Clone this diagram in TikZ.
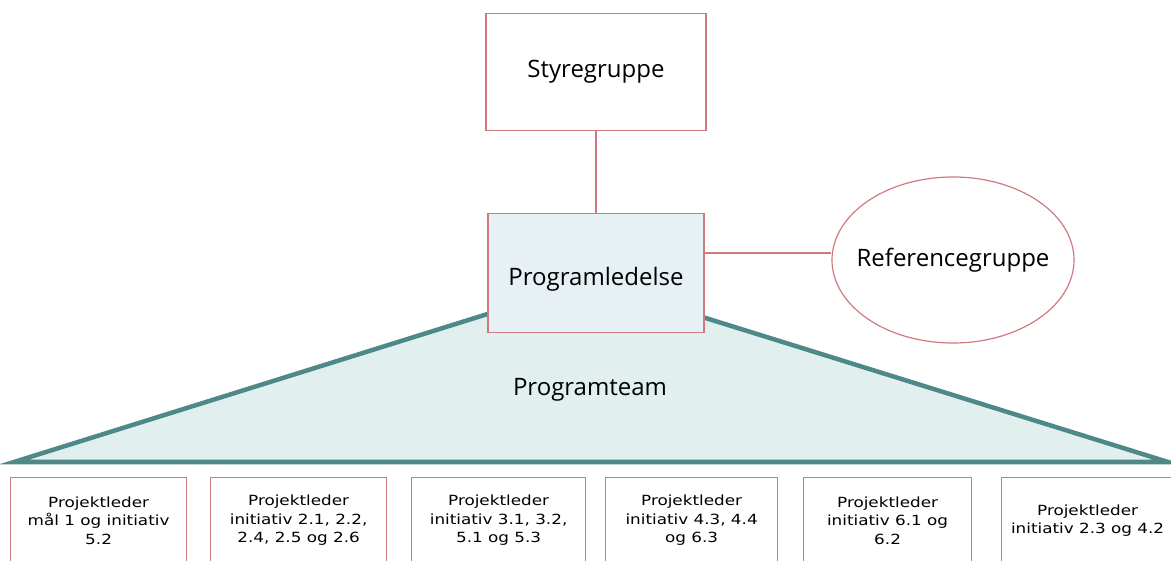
\documentclass[tikz,border=0pt]{standalone}
\usepackage{fontspec}
\setmainfont{Open Sans}
\newfontfamily\boxfont[FakeStretch=1.2]{DejaVu Sans}
\usetikzlibrary{shapes.geometric}
\definecolor{boxred}{HTML}{D07A80}
\definecolor{leadfill}{HTML}{E7F0F4}
\definecolor{teamline}{HTML}{4F8888}
\definecolor{teamfill}{HTML}{E2EFEF}
\tikzstyle{unit}=[draw=boxred,line width=1.2pt,inner sep=0pt,font=\fontsize{24}{28}\selectfont]
\tikzstyle{leader}=[draw=boxred,line width=1.2pt,anchor=north west,minimum height=86pt,inner sep=0pt,align=center,font=\boxfont\fontsize{14}{18.5}\selectfont]
\tikzstyle{link}=[draw=boxred,line width=1.2pt]
\tikzstyle{team}=[draw=teamline,fill=teamfill,line width=4.5pt,line join=miter]

\begin{document}
\begin{tikzpicture}[x=1pt,y=-1pt]
	\useasboundingbox (0,0) rectangle (1171,561);
	\clip (0,0) rectangle (1171,561);

	% the team triangle goes first, the management box covers its top
	\coordinate (tl) at (14,462);
	\coordinate (tr) at (1168,462);
	\coordinate (apex) at (590,282);
	\path[team] (tl) -- (apex) -- (tr) -- cycle;
	\node[font=\fontsize{24}{28}\selectfont] (team) at (590,390) {Programteam};

	% top of the organisation
	\node[unit,minimum width=220pt,minimum height=117pt] (styre) at (596,72) {Styregruppe};
	\node[unit,fill=leadfill,minimum width=216pt,minimum height=119pt,text height=30pt] (lead) at (596,273) {Programledelse};
	\node[unit,ellipse,inner xsep=-60pt,minimum width=242pt,minimum height=166pt] (ref) at (953,260) {Referencegruppe};

	\path (ref.west) ++(0,-7) coordinate (refin);
	\path[link] (styre) -- (lead);
	\path[link] (lead.east |- refin) -- (refin);

	% project leaders along the bottom
	\foreach \x/\w/\name/\txt in {
		10/176/p1/{Projektleder\\mål 1 og initiativ\\5.2},
		210/176/p2/{Projektleder\\initiativ 2.1, 2.2,\\2.4, 2.5 og 2.6},
		411/174/p3/{Projektleder\\initiativ 3.1, 3.2,\\5.1 og 5.3},
		605/172/p4/{Projektleder\\initiativ 4.3, 4.4\\og 6.3},
		803/168/p5/{Projektleder\\initiativ 6.1 og\\6.2},
		1001/172/p6/{Projektleder\\initiativ 2.3 og 4.2}}
		\node[leader,minimum width=\w pt] (\name) at (\x,477) {\txt};

\end{tikzpicture}
\end{document}
